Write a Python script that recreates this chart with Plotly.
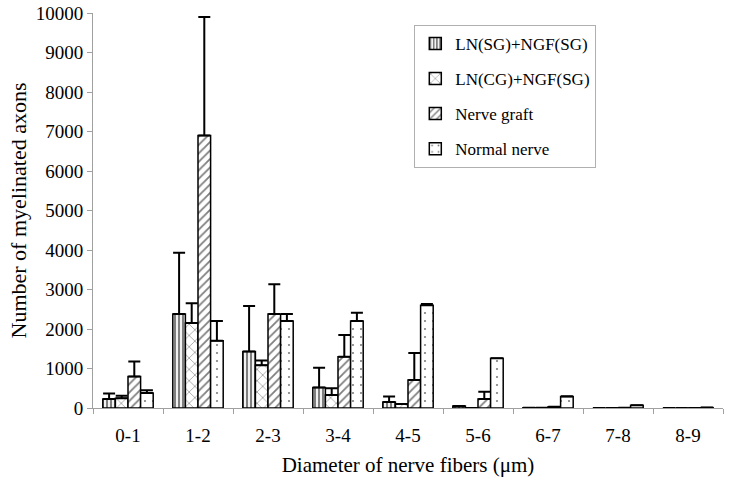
import plotly.graph_objects as go

categories = ["0-1", "1-2", "2-3", "3-4", "4-5", "5-6", "6-7", "7-8", "8-9"]

ln_sg = [230, 2380, 1430, 520, 150, 50, 5, 0, 0]
ln_sg_err = [140, 1550, 1150, 500, 140, 0, 0, 0, 0]

ln_cg = [250, 2150, 1080, 330, 100, 0, 5, 0, 0]
ln_cg_err = [60, 500, 120, 170, 0, 0, 0, 0, 0]

nerve_graft = [800, 6900, 2380, 1300, 710, 230, 30, 5, 0]
nerve_graft_err = [380, 3000, 750, 550, 680, 180, 0, 0, 0]

normal = [380, 1700, 2200, 2200, 2600, 1260, 290, 70, 10]
normal_err = [70, 500, 180, 210, 30, 0, 10, 0, 0]

names = ["LN(SG)+NGF(SG)", "LN(CG)+NGF(SG)", "Nerve graft", "Normal nerve"]
values = [ln_sg, ln_cg, nerve_graft, normal]
errors = [ln_sg_err, ln_cg_err, nerve_graft_err, normal_err]
patterns = [
    dict(shape="|", fgcolor="black", bgcolor="white", size=4, solidity=0.55),
    dict(shape="x", fgcolor="black", bgcolor="white", size=8, solidity=0.15),
    dict(shape="/", fgcolor="black", bgcolor="white", size=6, solidity=0.3),
    dict(shape=".", fgcolor="black", bgcolor="white", size=8, solidity=0.06),
]

font = "Liberation Serif"

fig = go.Figure()
for i, (n, v, e, p) in enumerate(zip(names, values, errors, patterns)):
    fig.add_trace(go.Bar(
        x=categories, y=v, name=n, legendgroup=f"g{i}",
        marker=dict(color="white", pattern=p, line=dict(color="black", width=1.5)),
        error_y=dict(type="data", symmetric=False, array=e,
                     arrayminus=[0] * len(e), color="black", thickness=2, width=6),
    ))

fig.update_layout(
    width=729, height=484,
    margin=dict(l=93, r=6, t=13, b=76),
    paper_bgcolor="white", plot_bgcolor="white",
    barmode="group", bargap=0.28, bargroupgap=0,
    font=dict(family=font, size=18, color="black"),
    showlegend=True,
    legend=dict(
        x=0.51, y=0.97, xanchor="left", yanchor="top",
        bordercolor="#b0b0b0", borderwidth=1, bgcolor="white",
        font=dict(family=font, size=17), tracegroupgap=10,
        itemwidth=30,
    ),
    xaxis=dict(
        automargin=False,
        showline=True, linecolor="#a0a0a0", linewidth=1,
        ticks="outside", tickcolor="#a0a0a0", ticklen=5,
        tickson="boundaries", ticklabelstandoff=10,
        title=dict(text="Diameter of nerve fibers (μm)", font=dict(size=21), standoff=12),
        tickfont=dict(size=19),
    ),
    yaxis=dict(
        automargin=False,
        range=[0, 10000], dtick=1000, tickformat="d",
        showline=True, linecolor="#a0a0a0", linewidth=1,
        ticks="outside", tickcolor="#a0a0a0", ticklen=5,
        showgrid=False, zeroline=False,
        title=dict(text="Number of myelinated axons", font=dict(size=22), standoff=3),
        tickfont=dict(size=19),
    ),
)

# remove the browser's default 8px body margin so the figure sits at the page origin
fig.write_html("out.html", config={"displayModeBar": False},
               post_script="document.body.style.margin='0';")
